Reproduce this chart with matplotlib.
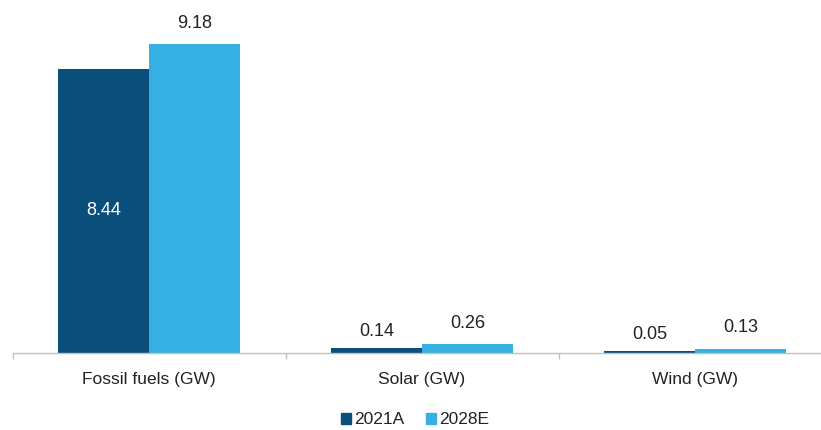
import matplotlib
matplotlib.use("Agg")
import matplotlib.pyplot as plt
from matplotlib.patches import Patch
import numpy as np

plt.rcParams['font.family'] = ['Liberation Sans', 'DejaVu Sans']

categories = ["Fossil fuels (GW)", "Solar (GW)", "Wind (GW)"]
series_names = ["2021A", "2028E"]
values_2021 = [8.44, 0.14, 0.05]
values_2028 = [9.18, 0.26, 0.13]

dark = "#0A4F7C"
light = "#36B0E2"
text_color = "#222222"
axis_color = "#BFBFBF"

fig = plt.figure(figsize=(8.21, 4.30), dpi=100)
ax = fig.add_axes([12.5 / 821, 77 / 430, 819 / 821, (353 - 16.4) / 430])

x = np.arange(len(categories))
w = 0.334
bars1 = ax.bar(x - w / 2, values_2021, w, color=dark, zorder=2)
bars2 = ax.bar(x + w / 2, values_2028, w, color=light, zorder=2)

ax.set_xlim(-0.5, len(categories) - 0.5)
ax.set_ylim(0, 10)

for s in ["top", "right", "left"]:
    ax.spines[s].set_visible(False)
ax.spines["bottom"].set_color(axis_color)
ax.spines["bottom"].set_linewidth(1.0)
ax.set_yticks([])

# category labels centred, tick marks on the boundaries
ax.set_xticks(x)
ax.set_xticklabels(categories, fontsize=12.5, color=text_color)
ax.tick_params(axis="x", which="major", length=0, pad=14)
ax.set_xticks(np.arange(-0.5, len(categories) + 0.5, 1), minor=True)
ax.tick_params(axis="x", which="minor", length=4, color=axis_color, width=1)

# value labels
for i, (b, v) in enumerate(zip(bars1, values_2021)):
    cx = b.get_x() + b.get_width() / 2
    if i == 0:
        ax.text(cx, v / 2, f"{v:.2f}", ha="center", va="center",
                color="white", fontsize=13)
    else:
        ax.annotate(f"{v:.2f}", (cx, v), xytext=(0, 6), textcoords="offset points",
                    ha="center", va="bottom", color=text_color, fontsize=13)
for b, v in zip(bars2, values_2028):
    cx = b.get_x() + b.get_width() / 2
    ax.annotate(f"{v:.2f}", (cx, v), xytext=(0, 9), textcoords="offset points",
                ha="center", va="bottom", color=text_color, fontsize=13)

handles = [Patch(color=dark), Patch(color=light)]
fig.legend(handles, series_names, loc="center", bbox_to_anchor=(415 / 821, 1 - 420 / 430),
           ncol=2, frameon=False, fontsize=12.5, handlelength=0.6, handleheight=0.6,
           handletextpad=0.2, columnspacing=1.2, labelcolor=text_color)

fig.savefig("out.png", dpi=100)
